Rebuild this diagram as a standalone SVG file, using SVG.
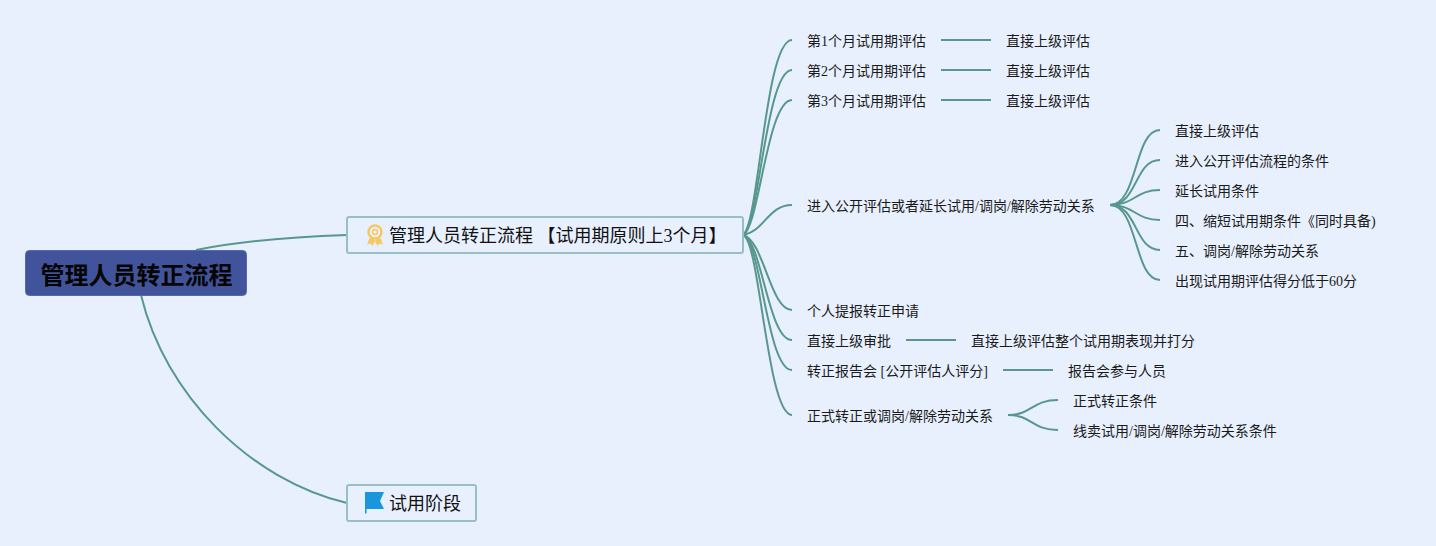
<svg xmlns="http://www.w3.org/2000/svg" width="1436" height="546" viewBox="0 0 1436 546">
<style>
text{font-family:"Liberation Serif","Noto Sans CJK SC",serif;fill:#1a1a1a;font-size:14px}
.l1{font-size:18px;fill:#111}
.root{font-size:24px;font-weight:700;fill:#050505}
.c{fill:none;stroke:#58978d;stroke-width:2}
.box{fill:#e8f0fe;stroke:#97bfc4;stroke-width:2}
</style>
<rect width="1436" height="546" fill="#e8f0fe"/>
<g id="connectors">
<path class="c" d="M196,250C240,241 290,237 347,235"/>
<path class="c" d="M141,295C165,395 250,480 347,503"/>
<path class="c" d="M743,235C759,225 765,40 792,40"/>
<path class="c" d="M743,235C759,227 766,70 792,70"/>
<path class="c" d="M743,235C759,229 767,100 792,100"/>
<path class="c" d="M743,235C765,231 768,205 792,205"/>
<path class="c" d="M743,235C764,240 770,310 792,310"/>
<path class="c" d="M743,235C762,240 768,340 792,340"/>
<path class="c" d="M743,235C761,240 767,370 792,370"/>
<path class="c" d="M743,235C760,240 767,415 792,415"/>
<path class="c" d="M941,40H991"/>
<path class="c" d="M941,70H991"/>
<path class="c" d="M941,100H991"/>
<path class="c" d="M906,340H956"/>
<path class="c" d="M1003,370H1053"/>
<path class="c" d="M1110,205C1138,205 1134,130 1160,130"/>
<path class="c" d="M1110,205C1138,205 1134,160 1160,160"/>
<path class="c" d="M1110,205C1135,205 1135,190 1160,190"/>
<path class="c" d="M1110,205C1135,205 1135,220 1160,220"/>
<path class="c" d="M1110,205C1138,205 1134,250 1160,250"/>
<path class="c" d="M1110,205C1138,205 1134,280 1160,280"/>
<path class="c" d="M1008,415C1032,415 1032,400 1058,400"/>
<path class="c" d="M1008,415C1032,415 1032,430 1058,430"/>
</g>
<g id="root"><rect x="25.500" y="250.500" width="221" height="45" rx="4" fill="#41549b" stroke="#5368ad"/><text class="root" x="40.500" y="283.500">管理人员转正流程</text></g>
<g id="n1"><rect class="box" x="347" y="217" width="396" height="36" rx="2"/>
<circle cx="375" cy="232" r="6.500" fill="none" stroke="#f5c862" stroke-width="2.500"/><circle cx="375" cy="232" r="2.500" fill="none" stroke="#f5c862" stroke-width="1.500"/><path d="M369.500,238L367,244.500L370.500,243.500L372.500,246L375.500,240ZM380.500,238L383,244.500L379.500,243.500L377.500,246L374.500,240Z" fill="#f5c862"/>
<text class="l1" x="389" y="242">管理人员转正流程 【试用期原则上3个月】</text></g>
<g id="n2"><rect class="box" x="347" y="485" width="129" height="36" rx="2"/>
<path d="M365,492H384L380,501L384,509H366.500V513.500H365Z" fill="#1a96dc"/>
<text class="l1" x="389" y="510">试用阶段</text></g>
<g id="t1"><text x="807" y="46">第1个月试用期评估</text></g>
<g id="t1a"><text x="1006" y="46">直接上级评估</text></g>
<g id="t2"><text x="807" y="76">第2个月试用期评估</text></g>
<g id="t2a"><text x="1006" y="76">直接上级评估</text></g>
<g id="t3"><text x="807" y="106">第3个月试用期评估</text></g>
<g id="t3a"><text x="1006" y="106">直接上级评估</text></g>
<g id="t4"><text x="807" y="211">进入公开评估或者延长试用/调岗/解除劳动关系</text></g>
<g id="t4a"><text x="1175" y="136">直接上级评估</text></g>
<g id="t4b"><text x="1175" y="166">进入公开评估流程的条件</text></g>
<g id="t4c"><text x="1175" y="196">延长试用条件</text></g>
<g id="t4d"><text x="1175" y="226">四、缩短试用期条件《同时具备)</text></g>
<g id="t4e"><text x="1175" y="256">五、调岗/解除劳动关系</text></g>
<g id="t4f"><text x="1175" y="286">出现试用期评估得分低于60分</text></g>
<g id="t5"><text x="807" y="316">个人提报转正申请</text></g>
<g id="t6"><text x="807" y="346">直接上级审批</text></g>
<g id="t6a"><text x="971" y="346">直接上级评估整个试用期表现并打分</text></g>
<g id="t7"><text x="807" y="376">转正报告会 [公开评估人评分]</text></g>
<g id="t7a"><text x="1068" y="376">报告会参与人员</text></g>
<g id="t8"><text x="807" y="421">正式转正或调岗/解除劳动关系</text></g>
<g id="t8a"><text x="1073" y="406">正式转正条件</text></g>
<g id="t8b"><text x="1073" y="436">线卖试用/调岗/解除劳动关系条件</text></g>
</svg>
